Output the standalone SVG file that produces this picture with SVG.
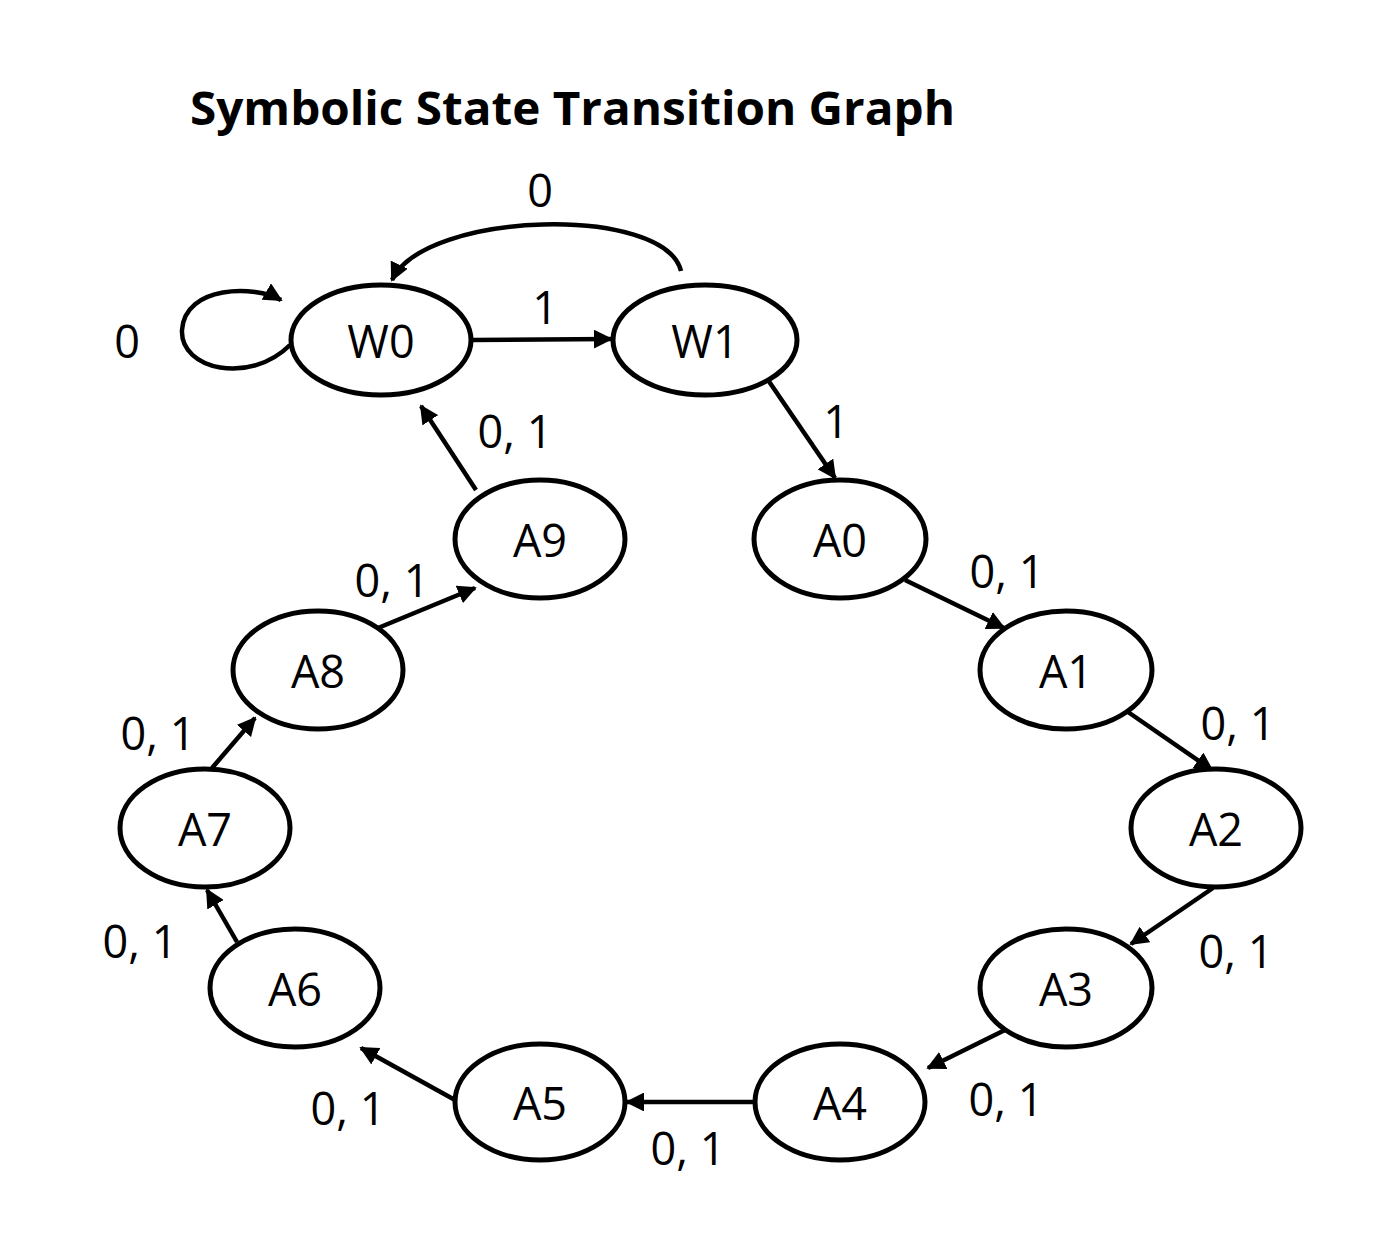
<svg xmlns="http://www.w3.org/2000/svg" width="1394" height="1242" viewBox="0 0 1394 1242">
<style>
.n ellipse{fill:#fff;stroke:#000;stroke-width:5}
text{font-family:"Open Sans","Liberation Sans",sans-serif;font-size:45px;fill:#000}
.n text{text-anchor:middle;dominant-baseline:central}
.e path,.e line{stroke:#000;stroke-width:4.5;fill:none;marker-end:url(#a)}
.l{text-anchor:middle}
</style>
<defs><marker id="a" viewBox="0 0 10 10" refX="9" refY="5" markerWidth="4.2" markerHeight="4.2" orient="auto" markerUnits="strokeWidth"><path d="M0,0 L10,5 L0,10 z" fill="#000"/></marker></defs>
<rect width="1394" height="1242" fill="#fff"/>
<text x="190" y="125" textLength="765" lengthAdjust="spacingAndGlyphs" style="font-weight:bold;font-size:46px">Symbolic State Transition Graph</text>
<g class="e">
<line x1="471" y1="340" x2="611" y2="339"/>
<path d="M681 271 C665 205,425 210,392 280"/>
<path d="M290 345 C250 385,180 370,182 330 C185 285,255 285,281 300"/>
<line x1="768" y1="380" x2="835" y2="478"/>
<line x1="905" y1="580" x2="1004" y2="628"/>
<line x1="1128" y1="712" x2="1212" y2="770"/>
<line x1="1213" y1="888" x2="1131" y2="944"/>
<line x1="1005" y1="1030" x2="928" y2="1068"/>
<line x1="755" y1="1102" x2="627" y2="1102"/>
<line x1="455" y1="1100" x2="361" y2="1048"/>
<line x1="237" y1="942" x2="207" y2="890"/>
<line x1="212" y1="768" x2="255" y2="718"/>
<line x1="378" y1="628" x2="475" y2="588"/>
<line x1="476" y1="490" x2="421" y2="406"/>
</g>
<g id="labels">
<text class="l" x="545" y="324">1</text>
<text class="l" x="540" y="207">0</text>
<text class="l" x="127" y="358">0</text>
<text class="l" x="836" y="438">1</text>
<text class="l" x="1007" y="588">0, 1</text>
<text class="l" x="1238" y="740">0, 1</text>
<text class="l" x="1236" y="968">0, 1</text>
<text class="l" x="1006" y="1116">0, 1</text>
<text class="l" x="688" y="1165">0, 1</text>
<text class="l" x="348" y="1125">0, 1</text>
<text class="l" x="140" y="958">0, 1</text>
<text class="l" x="158" y="750">0, 1</text>
<text class="l" x="392" y="597">0, 1</text>
<text class="l" x="515" y="448">0, 1</text>
</g>
<g id="W0" class="n"><ellipse cx="381" cy="340" rx="90" ry="55"/><text x="381" y="340">W0</text></g>
<g id="W1" class="n"><ellipse cx="705" cy="340" rx="92" ry="55"/><text x="705" y="340">W1</text></g>
<g id="A0" class="n"><ellipse cx="840" cy="539" rx="86" ry="59"/><text x="840" y="539">A0</text></g>
<g id="A1" class="n"><ellipse cx="1066" cy="670" rx="86" ry="59"/><text x="1066" y="670">A1</text></g>
<g id="A2" class="n"><ellipse cx="1216" cy="828" rx="85" ry="59"/><text x="1216" y="828">A2</text></g>
<g id="A3" class="n"><ellipse cx="1066" cy="988" rx="86" ry="59"/><text x="1066" y="988">A3</text></g>
<g id="A4" class="n"><ellipse cx="840" cy="1102" rx="85" ry="58"/><text x="840" y="1102">A4</text></g>
<g id="A5" class="n"><ellipse cx="540" cy="1102" rx="85" ry="58"/><text x="540" y="1102">A5</text></g>
<g id="A6" class="n"><ellipse cx="295" cy="988" rx="85" ry="59"/><text x="295" y="988">A6</text></g>
<g id="A7" class="n"><ellipse cx="205" cy="828" rx="85" ry="59"/><text x="205" y="828">A7</text></g>
<g id="A8" class="n"><ellipse cx="318" cy="670" rx="85" ry="59"/><text x="318" y="670">A8</text></g>
<g id="A9" class="n"><ellipse cx="540" cy="539" rx="85" ry="59"/><text x="540" y="539">A9</text></g>
</svg>
